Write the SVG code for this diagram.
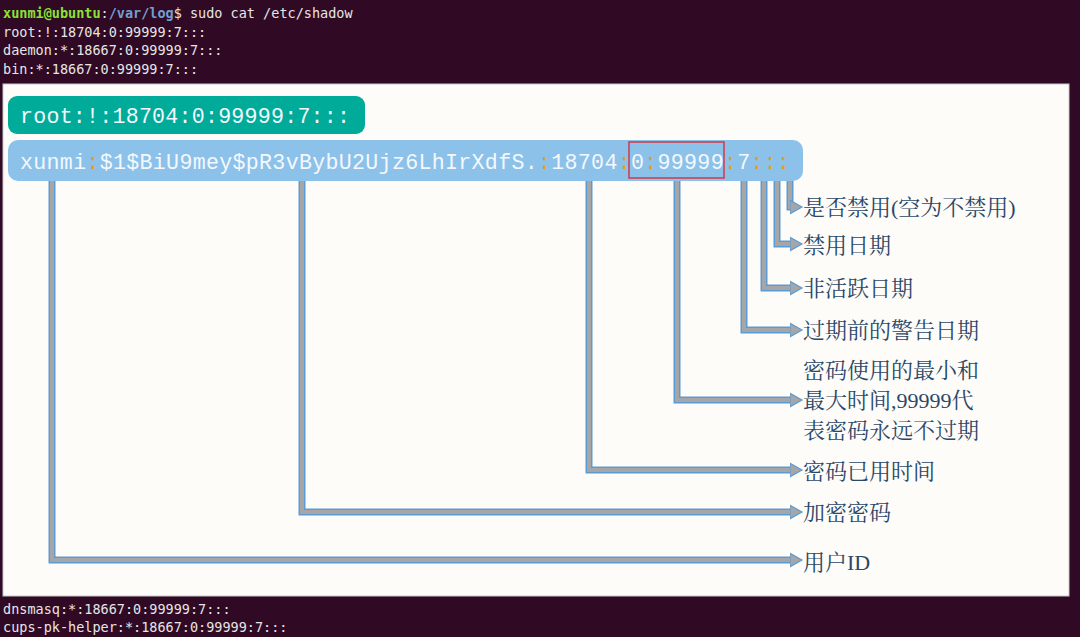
<svg xmlns="http://www.w3.org/2000/svg" width="1080" height="637" viewBox="0 0 1080 637">
<style>
.term{font-family:"DejaVu Sans Mono","Liberation Mono",monospace;font-size:13.5px;fill:#e6e6e6}
.bar{font-family:"Liberation Mono","Noto Sans CJK SC",monospace;font-size:21.6px;fill:#f4f8fc}
.c{fill:#e0a020}
.lbl{font-family:"Liberation Serif","Noto Serif CJK SC","Noto Sans CJK SC",serif;font-size:22px;fill:#2a4868}
.o{fill:none;stroke:#5b9bd5;stroke-width:7}
.i{fill:none;stroke:#a6a6a6;stroke-width:4}
</style>
<defs>
<marker id="ah" markerWidth="4" markerHeight="4" refX="1" refY="2" orient="auto" markerUnits="strokeWidth">
<path d="M0,0.3 L3,2 L0,3.7 Z" fill="#a6a6a6" stroke="#5b9bd5" stroke-width="0.3"/>
</marker>
</defs>
<rect width="1080" height="637" fill="#300a24"/>
<g id="terminal">
<text x="3" y="18" class="term"><tspan fill="#8ae234" font-weight="bold">xunmi@ubuntu</tspan><tspan fill="#e6e6e6">:</tspan><tspan fill="#729fcf" font-weight="bold">/var/log</tspan><tspan>$ sudo cat /etc/shadow</tspan></text>
<text x="3" y="37" class="term">root:!:18704:0:99999:7:::</text>
<text x="3" y="55" class="term">daemon:*:18667:0:99999:7:::</text>
<text x="3" y="74" class="term">bin:*:18667:0:99999:7:::</text>
<text x="3" y="614" class="term">dnsmasq:*:18667:0:99999:7:::</text>
<text x="3" y="632" class="term">cups-pk-helper:*:18667:0:99999:7:::</text>
</g>
<rect x="3" y="84" width="1066" height="512" fill="#fefcf8" stroke="#c8c8c8"/>
<g id="root-line">
<rect x="8" y="96" width="357" height="38" rx="9" fill="#00ab9a"/>
<text x="20" y="123" class="bar" textLength="330" lengthAdjust="spacing">root:!:18704:0:99999:7:::</text>
</g>
<g id="user-line">
<rect x="8" y="140" width="795" height="41" rx="10" fill="#8cc1ea"/>
<text x="20" y="169" class="bar" textLength="770" lengthAdjust="spacing">xunmi<tspan class="c">:</tspan>$1$BiU9mey$pR3vBybU2Ujz6LhIrXdfS.<tspan class="c">:</tspan>18704<tspan class="c">:</tspan>0<tspan class="c">:</tspan>99999<tspan class="c">:</tspan>7<tspan class="c">:::</tspan></text>
<rect x="629" y="142" width="95" height="36" fill="none" stroke="#d0384a" stroke-width="1.5"/>
</g>
<g id="connectors">
<path class="o" d="M52,181 V560 H796"/><path class="i" d="M52,181 V560 H794" marker-end="url(#ah)"/>
<path class="o" d="M302,181 V512 H796"/><path class="i" d="M302,181 V512 H794" marker-end="url(#ah)"/>
<path class="o" d="M589,181 V470 H796"/><path class="i" d="M589,181 V470 H794" marker-end="url(#ah)"/>
<path class="o" d="M677,181 V400 H796"/><path class="i" d="M677,181 V400 H794" marker-end="url(#ah)"/>
<path class="o" d="M744,181 V330 H796"/><path class="i" d="M744,181 V330 H794" marker-end="url(#ah)"/>
<path class="o" d="M764,181 V288 H796"/><path class="i" d="M764,181 V288 H794" marker-end="url(#ah)"/>
<path class="o" d="M777,181 V244 H796"/><path class="i" d="M777,181 V244 H794" marker-end="url(#ah)"/>
<path class="o" d="M790,181 V207 H796"/><path class="i" d="M790,181 V207 H794" marker-end="url(#ah)"/>
</g>
<g id="labels">
<text x="803" y="215" class="lbl">是否禁用(空为不禁用)</text>
<text x="803" y="253" class="lbl">禁用日期</text>
<text x="803" y="296" class="lbl">非活跃日期</text>
<text x="803" y="338" class="lbl">过期前的警告日期</text>
<text x="803" y="378" class="lbl">密码使用的最小和</text>
<text x="803" y="408" class="lbl">最大时间,99999代</text>
<text x="803" y="438" class="lbl">表密码永远不过期</text>
<text x="803" y="479" class="lbl">密码已用时间</text>
<text x="803" y="520" class="lbl">加密密码</text>
<text x="803" y="570" class="lbl">用户ID</text>
</g>
</svg>
